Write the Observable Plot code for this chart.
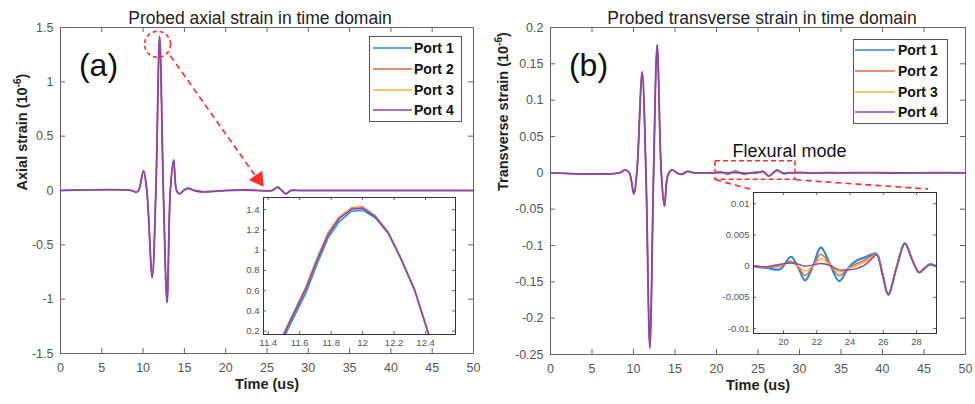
<!DOCTYPE html>
<html><head><meta charset="utf-8">
<script src="https://cdn.jsdelivr.net/npm/d3@7"></script>
<script src="https://cdn.jsdelivr.net/npm/@observablehq/plot@0.6"></script>
<style>
body{margin:0;background:#fff;}
#wrap{position:relative;width:975px;height:404px;font-family:"Liberation Sans",Arial,sans-serif;overflow:hidden;}
#wrap > *{position:absolute;}
</style></head><body><div id="wrap"></div>
<script>
// ---------- data ----------
const ports = ["Port 1", "Port 2", "Port 3", "Port 4"];
const portColors = ["#2a8ad6", "#e2693c", "#f0b43c", "#8e45a8"];

const timeTicks = [0, 5, 10, 15, 20, 25, 30, 35, 40, 45, 50];
const axialTicks = [-1.5, -1, -0.5, 0, 0.5, 1, 1.5];
const transTicks = [-0.25, -0.2, -0.15, -0.1, -0.05, 0, 0.05, 0.1, 0.15, 0.2];
const axialInsetXTicks = [11.4, 11.6, 11.8, 12, 12.2, 12.4];
const axialInsetYTicks = [0.2, 0.4, 0.6, 0.8, 1, 1.2, 1.4];
const transInsetXTicks = [20, 22, 24, 26, 28];
const transInsetYTicks = [-0.01, -0.005, 0, 0.005, 0.01];

// axial strain (all ports coincide on the main scale)
const axialT = [0, 8.6, 9.1, 9.45, 10.05, 10.45, 11.1, 11.55, 12.0, 12.45, 12.9, 13.3, 13.7, 14.05, 14.4, 14.9, 15.4, 16.2, 17.2, 18.5, 20, 22, 24, 25.6, 26.3, 26.8, 27.3, 27.9, 29, 31, 50];
const axialV = [0, 0, -0.015, 0.0, 0.18, 0.0, -0.8, 0.0, 1.42, 0.0, -1.03, 0.0, 0.28, 0.0, -0.03, 0.0, 0.02, 0.0, -0.012, -0.008, 0.0, 0.004, 0.0, 0.0, 0.03, 0.0, -0.03, 0.0, 0.0, 0.0, 0];

// axial inset (peak detail)
const axialInsetT = [11.5, 11.64, 11.71, 11.78, 11.85, 11.93, 12.0, 12.08, 12.16, 12.24, 12.33, 12.42];
const axialInsetP1 = [0.14, 0.58, 0.86, 1.12, 1.28, 1.385, 1.395, 1.32, 1.17, 0.92, 0.60, 0.16];
const axialInsetP2 = [0.18, 0.64, 0.92, 1.17, 1.325, 1.418, 1.428, 1.34, 1.18, 0.93, 0.61, 0.17];
const axialInsetP3 = [0.17, 0.63, 0.91, 1.16, 1.315, 1.412, 1.42, 1.335, 1.18, 0.93, 0.61, 0.17];
const axialInsetP4 = [0.17, 0.62, 0.90, 1.15, 1.31, 1.405, 1.415, 1.33, 1.18, 0.93, 0.61, 0.17];

// transverse strain: shared pulse, per-port flexural mode, shared tail
const transPulseT = [0, 8.3, 9.0, 9.5, 10.04, 10.4, 11.04, 11.5, 11.97, 12.42, 12.85, 13.35, 13.73, 14.15, 14.66, 15.2, 15.8, 16.5, 17.3];
const transPulseV = [0, 0, 0.004, 0.0, -0.029, 0.0, 0.139, 0.0, -0.241, 0.0, 0.176, 0.0, -0.046, -0.003, 0.004, 0.0, -0.002, 0.002, 0.0];
const flexT = [18.2, 19.0, 19.8, 20.45, 20.9, 21.3, 21.8, 22.25, 22.8, 23.35, 23.9, 24.4, 24.9, 25.25, 25.6, 25.95, 26.3, 26.8, 27.3, 27.75, 28.15, 28.5, 28.8, 29.2];
const flexP1 = [0, -0.0003, -0.0005, 0.0015, -0.0003, -0.0023, 0.0002, 0.003, 0.0003, -0.0024, -0.0003, 0.0009, 0.0014, 0.0018, 0.002, -0.0012, -0.0046, -0.0002, 0.0037, 0.0010, -0.001, -0.0003, 0.0003, 0];
const flexP2 = [0, -0.0002, 0.0000, 0.0008, -0.0002, -0.0015, 0.0001, 0.0019, 0.0002, -0.0015, -0.0004, 0.0004, 0.0010, 0.0015, 0.0019, -0.0012, -0.0045, -0.0002, 0.0036, 0.0009, -0.0009, -0.0003, 0.0002, 0];
const flexP3 = [0, -0.0001, 0.0002, 0.0005, 0.0000, -0.0008, 0.0001, 0.0012, 0.0002, -0.0009, -0.0004, 0.0001, 0.0007, 0.0013, 0.0019, -0.0012, -0.0045, -0.0002, 0.0036, 0.0009, -0.0009, -0.0003, 0.0002, 0];
const flexP4 = [0, -0.0001, 0.0003, 0.0005, 0.0003, 0.0000, 0.0002, 0.0004, 0.0001, -0.0006, -0.0006, -0.0004, 0.0002, 0.0010, 0.0018, -0.0013, -0.0045, -0.0002, 0.0036, 0.0009, -0.001, -0.0003, 0.0002, 0];
const transTailT = [30, 31.5, 33, 35, 38, 42, 46, 50];
const transTailV = [0.0004, -0.0004, 0.0002, 0, 0.0003, -0.0002, 0.0002, 0];

// annotations (data coordinates)
const axialCircle = [{t: 11.75, v: 1.345}];
const axialArrow = [{t1: 13.3, v1: 1.24, t2: 24.2, v2: 0.07}];
const axialArrowHead = [{t: 23.95, v: 0.105}];
const flexBox = [{t1: 19.88, t2: 29.52, v1: -0.0096, v2: 0.016}];
const flexLinks = [{t1: 19.88, v1: -0.0096, t2: 24.3, v2: -0.023}, {t1: 29.52, v1: -0.0096, t2: 45.5, v2: -0.0223}];

// ---------- helpers ----------
const FONT = '"Liberation Sans", Arial, sans-serif';
const rows = (T, V) => T.map((t, i) => ({t, v: V[i]}));
const axialInsetPorts = [axialInsetP1, axialInsetP2, axialInsetP3, axialInsetP4];
const flexPorts = [flexP1, flexP2, flexP3, flexP4];

function boxTicks(xt, yt, w, h, len, stroke) {
  return [
    Plot.tickX(xt, {x: d => d, insetTop: h - len, stroke}),
    Plot.tickX(xt, {x: d => d, insetBottom: h - len, stroke}),
    Plot.tickY(yt, {y: d => d, insetRight: w - len, stroke}),
    Plot.tickY(yt, {y: d => d, insetLeft: w - len, stroke})
  ];
}

const wrap = document.getElementById("wrap");
function place(el, left, top) {
  el.style.position = "absolute";
  el.style.left = left + "px";
  el.style.top = top + "px";
  wrap.appendChild(el);
}

// turn "(10⁻⁶)" into a real superscript
function supify(svg) {
  d3.select(svg).selectAll("text").each(function () {
    const t = this.textContent;
    const m = t.match(/^(.*\(10)⁻⁶\)$/);
    if (m) {
      const s = d3.select(this);
      s.text(m[1]);
      s.append("tspan").attr("dy", -6).attr("font-size", "10px").text("-6");
      s.append("tspan").attr("dy", 6).text(")");
    }
  });
}

function legend(left, top, w, h, x0, x1, tx, ys) {
  const svg = d3.create("svg").attr("width", w).attr("height", h)
    .style("overflow", "visible");
  svg.append("rect").attr("x", 0.5).attr("y", 0.5).attr("width", w - 1).attr("height", h - 1)
    .attr("fill", "white").attr("stroke", "#555");
  ports.forEach((p, i) => {
    svg.append("line").attr("x1", x0).attr("x2", x1).attr("y1", ys[i]).attr("y2", ys[i])
      .attr("stroke", portColors[i]).attr("stroke-width", 1.6);
    svg.append("text").attr("x", tx).attr("y", ys[i]).attr("dy", "0.35em")
      .attr("font-family", FONT).attr("font-size", 14).attr("font-weight", "bold")
      .attr("fill", "#111").text(p);
  });
  place(svg.node(), left, top);
}

// ---------- left panel ----------
const leftW = 490, leftMl = 60, leftMr = 17, leftMt = 27, leftMb = 51;
const lw = leftW - leftMl - leftMr, lh = 404 - leftMt - leftMb;
const axialRows = rows(axialT, axialV);

const left = Plot.plot({
  width: leftW, height: 404,
  marginLeft: leftMl, marginRight: leftMr, marginTop: leftMt, marginBottom: leftMb,
  x: {domain: [0, 50]}, y: {domain: [-1.5, 1.5]},
  style: {fontFamily: FONT, fontSize: "12.5px", color: "#555", background: "transparent"},
  marks: [
    Plot.frame({stroke: "#666"}),
    ...boxTicks(timeTicks, axialTicks, lw, lh, 5, "#666"),
    Plot.axisX({ticks: timeTicks, tickSize: 0, tickPadding: 10, label: null, tickFormat: d => String(d)}),
    Plot.axisY({ticks: axialTicks, tickSize: 0, tickPadding: 7, label: null, tickFormat: d => String(d)}),
    ...ports.map((p, i) => Plot.line(axialRows, {x: "t", y: "v", stroke: portColors[i], strokeWidth: i === 3 ? 1.9 : 1.2, curve: "catmull-rom"})),
    Plot.dot(axialCircle, {x: "t", y: "v", r: 13, stroke: "#ff2a2a", strokeWidth: 1.6, strokeDasharray: "4,3", fill: "none"}),
    Plot.link(axialArrow, {x1: "t1", y1: "v1", x2: "t2", y2: "v2", stroke: "#ff2a2a", strokeWidth: 1.6, strokeDasharray: "6,4"}),
    Plot.dot(axialArrowHead, {x: "t", y: "v", symbol: "triangle", r: 6, rotate: 145, fill: "#ff2a2a", stroke: "none"}),
    Plot.text([{t: 4.6, v: 1.15, s: "(a)"}], {x: "t", y: "v", text: "s", fontSize: 32, fill: "#111"}),
    Plot.text(["Probed axial strain in time domain"], {text: d => d, frameAnchor: "top", dy: -16, dx: -7, fontSize: 17.5, fill: "#222"}),
    Plot.text(["Time (us)"], {text: d => d, frameAnchor: "bottom", dy: 35, fontSize: 14.5, fontWeight: "bold", fill: "#222"}),
    Plot.text(["Axial strain (10⁻⁶)"], {text: d => d, frameAnchor: "left", dx: -38, rotate: -90, fontSize: 14.5, fontWeight: "bold", fill: "#222"})
  ]
});
supify(left);
place(left, 0, 0);

// left inset
const liW = 225, liH = 156, liMl = 30, liMr = 3, liMt = 3, liMb = 16;
const leftInset = Plot.plot({
  width: liW, height: liH, marginLeft: liMl, marginRight: liMr, marginTop: liMt, marginBottom: liMb,
  x: {domain: [11.37, 12.59]}, y: {domain: [0.167, 1.52]},
  style: {fontFamily: FONT, fontSize: "9.5px", color: "#555", background: "transparent"},
  marks: [
    Plot.frame({fill: "white", stroke: "#333"}),
    ...boxTicks(axialInsetXTicks, axialInsetYTicks, liW - liMl - liMr, liH - liMt - liMb, 3, "#666"),
    Plot.axisX({ticks: axialInsetXTicks, tickSize: 0, tickPadding: 5, label: null, tickFormat: d => String(d)}),
    Plot.axisY({ticks: axialInsetYTicks, tickSize: 0, tickPadding: 4, label: null, tickFormat: d => String(d)}),
    ...ports.map((p, i) => Plot.line(rows(axialInsetT, axialInsetPorts[i]), {x: "t", y: "v", stroke: portColors[i], strokeWidth: 1.5, clip: true})),
    Plot.frame({stroke: "#333"})
  ]
});
place(leftInset, 263 - liMl, 197 - liMt);
legend(369, 36, 93, 86, 4, 43, 45, [12, 33, 54, 74]);

// ---------- right panel ----------
const rightW = 485, rightMl = 60, rightMr = 10, rightMt = 27, rightMb = 50;
const rw = rightW - rightMl - rightMr, rh = 404 - rightMt - rightMb;
const transRows = flexPorts.map(f => rows(transPulseT.concat(flexT, transTailT), transPulseV.concat(f, transTailV)));

const right = Plot.plot({
  width: rightW, height: 404,
  marginLeft: rightMl, marginRight: rightMr, marginTop: rightMt, marginBottom: rightMb,
  x: {domain: [0, 50]}, y: {domain: [-0.25, 0.2]},
  style: {fontFamily: FONT, fontSize: "12.5px", color: "#555", background: "transparent"},
  marks: [
    Plot.frame({stroke: "#666"}),
    ...boxTicks(timeTicks, transTicks, rw, rh, 5, "#666"),
    Plot.axisX({ticks: timeTicks, tickSize: 0, tickPadding: 10, label: null, tickFormat: d => String(d)}),
    Plot.axisY({ticks: transTicks, tickSize: 0, tickPadding: 7, label: null, tickFormat: d => String(d)}),
    ...ports.map((p, i) => Plot.line(transRows[i], {x: "t", y: "v", stroke: portColors[i], strokeWidth: i === 3 ? 1.9 : 1.3, curve: "catmull-rom"})),
    Plot.rect(flexBox, {x1: "t1", x2: "t2", y1: "v1", y2: "v2", fill: "none", stroke: "#ff2a2a", strokeWidth: 1.5, strokeDasharray: "5,3"}),
    Plot.link(flexLinks, {x1: "t1", y1: "v1", x2: "t2", y2: "v2", stroke: "#ff2a2a", strokeWidth: 1.6, strokeDasharray: "6,4"}),
    Plot.text([{t: 4.58, v: 0.1477, s: "(b)"}], {x: "t", y: "v", text: "s", fontSize: 32, fill: "#111"}),
    Plot.text([{t: 28.8, v: 0.0297, s: "Flexural mode"}], {x: "t", y: "v", text: "s", fontSize: 18, fill: "#111"}),
    Plot.text(["Probed transverse strain in time domain"], {text: d => d, frameAnchor: "top", dy: -16, dx: 4, fontSize: 17.5, fill: "#222"}),
    Plot.text(["Time (us)"], {text: d => d, frameAnchor: "bottom", dy: 35, fontSize: 14.5, fontWeight: "bold", fill: "#222"}),
    Plot.text(["Transverse strain (10⁻⁶)"], {text: d => d, frameAnchor: "left", dx: -47, rotate: -90, fontSize: 14.5, fontWeight: "bold", fill: "#222"})
  ]
});
supify(right);
place(right, 490, 0);

// right inset
const riW = 226, riH = 160, riMl = 40, riMr = 3, riMt = 3, riMb = 16;
const rightInset = Plot.plot({
  width: riW, height: riH, marginLeft: riMl, marginRight: riMr, marginTop: riMt, marginBottom: riMb,
  x: {domain: [18.2, 29.2]}, y: {domain: [-0.0108, 0.0118]},
  style: {fontFamily: FONT, fontSize: "9.5px", color: "#555", background: "transparent"},
  marks: [
    Plot.frame({fill: "white", stroke: "#333"}),
    ...boxTicks(transInsetXTicks, transInsetYTicks, riW - riMl - riMr, riH - riMt - riMb, 3, "#666"),
    Plot.axisX({ticks: transInsetXTicks, tickSize: 0, tickPadding: 5, label: null, tickFormat: d => String(d)}),
    Plot.axisY({ticks: transInsetYTicks, tickSize: 0, tickPadding: 4, label: null, tickFormat: d => String(d)}),
    ...ports.map((p, i) => Plot.line(rows(flexT, flexPorts[i]), {x: "t", y: "v", stroke: portColors[i], strokeWidth: i === 0 ? 2.2 : 1.5, curve: "catmull-rom", clip: true})),
    Plot.frame({stroke: "#333"})
  ]
});
place(rightInset, 753 - riMl, 192 - riMt);
legend(853, 39, 95, 85, 2, 42, 45, [11, 32, 53, 73]);
</script>
</body></html>
